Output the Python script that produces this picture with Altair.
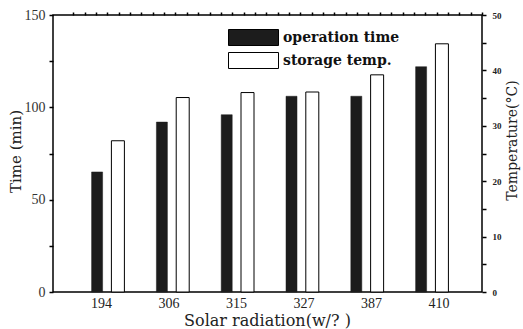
import altair as alt
import pandas as pd

radiation = ["194", "306", "315", "327", "387", "410"]
op_time = [65, 92, 96, 106, 106, 122]
storage_temp = [27.3, 35.1, 36.0, 36.1, 39.2, 44.8]
series_names = ["operation time", "storage temp."]
left_ticks = [0, 25, 50, 75, 100, 125, 150]
right_ticks = [0, 5, 10, 15, 20, 25, 30, 35, 40, 45, 50]
top_ticks = list(range(0, 37))

SERIF = "Liberation Serif"
WIDE = "DejaVu Serif"

df_op = pd.DataFrame({"rad": radiation, "val": op_time, "series": series_names[0]})
df_tp = pd.DataFrame({"rad": radiation, "val": storage_temp, "series": series_names[1]})
df_lab = pd.DataFrame({"rad": radiation})
df_top = pd.DataFrame({"t": top_ticks})

bar_x_scale = alt.Scale(paddingInner=0, paddingOuter=0.31, align=0.55)
color_scale = alt.Scale(domain=series_names, range=["#1c1c1c", "#ffffff"])

hidden_lines = dict(grid=True, gridOpacity=0, domain=True, domainOpacity=0)

op = alt.Chart(df_op).mark_bar(width=11, xOffset=-10.4, stroke="#1c1c1c", strokeWidth=0.5).encode(
    x=alt.X("rad:N", sort=radiation, scale=bar_x_scale, axis=None),
    y=alt.Y("val:Q", scale=alt.Scale(domain=[0, 150], nice=False),
            axis=alt.Axis(orient="left", values=left_ticks, tickSize=4,
                          labelExpr="datum.value % 50 === 0 ? datum.label : ''",
                          tickColor="black", tickWidth=1.5,
                          labelFont=SERIF, labelFontSize=14, labelColor="#333",
                          labelPadding=4,
                          title="Time (min)", titleFont=WIDE, titleFontSize=15,
                          titleFontWeight="normal", titleColor="#222",
                          titleX=-38, titleY=136, titleAngle=270,
                          titleBaseline="middle", titleAlign="center",
                          **hidden_lines)),
    color=alt.Color("series:N", scale=color_scale,
                    legend=alt.Legend(orient="none", legendX=192, legendY=14,
                                      title=None, padding=0,
                                      symbolType="M-3.125,-1H3.125V1H-3.125Z",
                                      symbolSize=256, symbolStrokeColor="black",
                                      symbolStrokeWidth=1, symbolOpacity=1,
                                      rowPadding=2,
                                      labelFont=WIDE, labelFontSize=14,
                                      labelFontWeight="bold", labelColor="#111",
                                      labelOffset=21)),
)

tp = alt.Chart(df_tp).mark_bar(width=13, xOffset=10.4, stroke="black", strokeWidth=1).encode(
    x=alt.X("rad:N", sort=radiation, scale=bar_x_scale, axis=None),
    y=alt.Y("val:Q", scale=alt.Scale(domain=[0, 50], nice=False),
            axis=alt.Axis(orient="right", values=right_ticks, tickSize=4,
                          labelExpr="datum.value % 10 === 0 ? datum.label : ''",
                          tickColor="black", tickWidth=1.5,
                          labelFont=SERIF, labelFontSize=9, labelFontWeight="bold",
                          labelColor="#222", labelPadding=6,
                          title="Temperature(°C)", titleFont=WIDE, titleFontSize=14,
                          titleFontWeight="normal", titleColor="#222",
                          titleX=30, titleY=125, titleAngle=270,
                          titleBaseline="middle", titleAlign="center",
                          **hidden_lines)),
    color=alt.Color("series:N", scale=color_scale),
)

xlab = alt.Chart(df_lab).mark_point(opacity=0).encode(
    x=alt.X("rad:N", sort=radiation,
            scale=alt.Scale(type="point", padding=0.678, align=0.525),
            axis=alt.Axis(orient="bottom", ticks=False, domain=False, labelAngle=0,
                          labelFont=SERIF, labelFontSize=14, labelColor="#222",
                          labelPadding=4,
                          title="Solar radiation(w/?  )", titleFont=WIDE,
                          titleFontSize=16, titleFontWeight="normal", titleColor="#222",
                          titleX=214, titleY=28, titleBaseline="middle",
                          titleAlign="center")),
    y=alt.value(0),
)

top = alt.Chart(df_top).mark_point(opacity=0).encode(
    x=alt.X("t:Q", scale=alt.Scale(domain=[-1.79, 36.0], nice=False, zero=False),
            axis=alt.Axis(orient="top", values=top_ticks, labels=False, title=None,
                          tickSize=3, tickColor="black", tickWidth=1.5,
                          **hidden_lines)),
    y=alt.value(0),
)

chart = alt.layer(op, tp, xlab, top).resolve_scale(
    x="independent", y="independent"
).properties(
    width=429, height=277,
    padding={"left": 53, "top": 15, "right": 41, "bottom": 37},
    autosize="none",
).configure_view(stroke="black", strokeWidth=1.5)

chart.save("out.html", embed_options={"renderer": "svg", "actions": False})
